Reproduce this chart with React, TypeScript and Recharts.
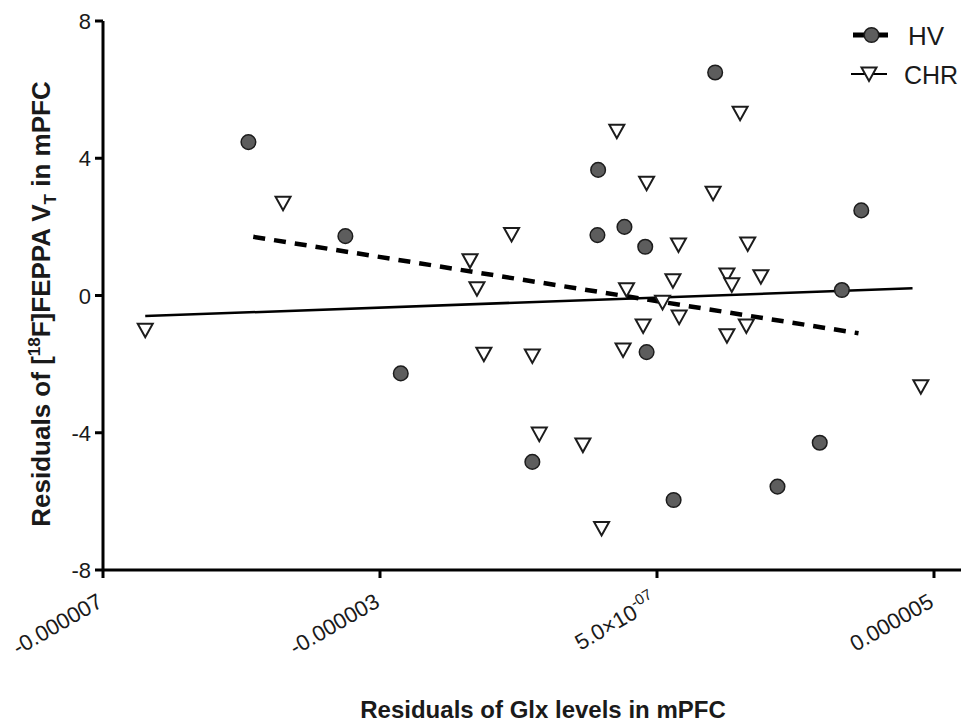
import { ScatterChart, Scatter, XAxis, YAxis, Legend, Label } from 'recharts';

const FONT = '"Liberation Sans", Arial, Helvetica, sans-serif';

// x values are residuals of Glx (raw units), y values are residuals of VT
const hvX = [-4.9e-6, -3.5e-6, -2.7e-6, -0.8e-6, 0.15e-6, 0.14e-6, 0.53e-6, 0.83e-6, 0.85e-6, 1.24e-6, 1.84e-6, 2.74e-6, 3.35e-6, 3.67e-6, 3.95e-6];
const hvY = [4.47, 1.73, -2.27, -4.85, 3.66, 1.76, 2.0, 1.42, -1.65, -5.96, 6.5, -5.57, -4.29, 0.16, 2.48];

const chrX = [-6.39e-6, -4.4e-6, -1.7e-6, -1.6e-6, -1.5e-6, -1.1e-6, -0.8e-6, -0.7e-6, -0.07e-6, 0.2e-6, 0.42e-6, 0.51e-6, 0.56e-6, 0.8e-6, 0.85e-6, 1.08e-6, 1.23e-6, 1.31e-6, 1.32e-6, 1.81e-6, 2.01e-6, 2.08e-6, 2.01e-6, 2.2e-6, 2.29e-6, 2.31e-6, 2.5e-6, 4.81e-6];
const chrY = [-1.01, 2.69, 1.01, 0.2, -1.71, 1.78, -1.76, -4.04, -4.36, -6.79, 4.79, -1.59, 0.17, -0.89, 3.27, -0.2, 0.43, 1.47, -0.63, 2.98, 0.6, 0.31, -1.17, 5.31, -0.89, 1.5, 0.55, -2.66];

// regression line end points
const hvFitX = [-4.83e-6, 3.91e-6];
const hvFitY = [1.71, -1.1];
const chrFitX = [-6.39e-6, 4.69e-6];
const chrFitY = [-0.6, 0.21];

const xTicks = [-7e-6, -3e-6, 1e-6, 5e-6];
const xTickLabels = ['-0.000007', '-0.000003', '5.0×10', '0.000005'];
const xTickSups = ['', '', '-07', ''];
const yTicks = [-8, -4, 0, 4, 8];

const seriesNames = ['HV', 'CHR'];

const toPoints = (xs: number[], ys: number[]) => xs.map((x, i) => ({ x, y: ys[i] }));

const hvData = toPoints(hvX, hvY);
const chrData = toPoints(chrX, chrY);
const hvFit = toPoints(hvFitX, hvFitY);
const chrFit = toPoints(chrFitX, chrFitY);

const Circle = ({ cx, cy }: any) => (
  <circle cx={cx} cy={cy} r={7.3} fill="#5d5d5d" stroke="#1c1c1c" strokeWidth={1.5} />
);

const Triangle = ({ cx, cy }: any) => (
  <polygon
    points={`${cx - 7.5},${cy - 6.5} ${cx + 7.5},${cy - 6.5} ${cx},${cy + 7}`}
    fill="#fff"
    stroke="#1c1c1c"
    strokeWidth={2}
  />
);

const Nothing = () => <g />;

function XTick(props: any) {
  const { x, y, payload } = props;
  const i = xTicks.indexOf(payload.value);
  return (
    <g transform={`translate(${x + 1},${y + 26}) rotate(-30)`}>
      <text x={0} y={0} textAnchor="end" fontSize={22} fontFamily={FONT} fill="#1a1a1a">
        {xTickLabels[i]}
        {xTickSups[i] && (
          <tspan dy={-10} fontSize={15}>
            {xTickSups[i]}
          </tspan>
        )}
      </text>
    </g>
  );
}

function YTick(props: any) {
  const { x, y, payload } = props;
  return (
    <text x={x} y={y} dy={8} textAnchor="end" fontSize={22} fontFamily={FONT} fill="#1a1a1a">
      {payload.value}
    </text>
  );
}

function LegendBox() {
  return (
    <svg width={116} height={100} style={{ overflow: 'hidden', display: 'block' }}>
      <line x1={8} y1={25} x2={43} y2={25} stroke="#000" strokeWidth={5} />
      <circle cx={26.5} cy={25} r={7.3} fill="#5d5d5d" stroke="#1c1c1c" strokeWidth={1.5} />
      <text x={63} y={35} fontSize={26} fontFamily={FONT} fill="#1a1a1a">
        {seriesNames[0]}
      </text>
      <line x1={6} y1={64} x2={42} y2={64} stroke="#000" strokeWidth={2} />
      <polygon points="16.5,57.5 31.5,57.5 24,71" fill="#fff" stroke="#1c1c1c" strokeWidth={2} />
      <text x={59} y={74} fontSize={25} fontFamily={FONT} fill="#1a1a1a">
        {seriesNames[1]}
      </text>
    </svg>
  );
}

const yLabel = () => (
  <text
    transform="translate(50,304) rotate(-90)"
    textAnchor="middle"
    fontSize={26}
    fontWeight="bold"
    fontFamily={FONT}
    fill="#1a1a1a"
  >
    Residuals of [
    <tspan dy={-10} fontSize={17}>18</tspan>
    <tspan dy={10}>F]FEPPA V</tspan>
    <tspan dy={6} fontSize={17}>T</tspan>
    <tspan dy={-6}> in mPFC</tspan>
  </text>
);

const xLabel = () => (
  <text x={543} y={718} textAnchor="middle" fontSize={24} fontWeight="bold" fontFamily={FONT} fill="#1a1a1a">
    Residuals of Glx levels in mPFC
  </text>
);

export default function App() {
  return (
    <div style={{ position: 'absolute', left: 0, top: 0, width: 961, height: 723, overflow: 'hidden', background: '#fff' }}>
      <ScatterChart width={961} height={723} margin={{ top: 21, right: 0, bottom: 93, left: 0 }}>
        <XAxis
          type="number"
          dataKey="x"
          domain={[-7e-6, 5.39e-6]}
          ticks={xTicks}
          interval={0}
          allowDataOverflow
          height={60}
          tickSize={8}
          tickMargin={2}
          axisLine={{ stroke: '#000', strokeWidth: 3 }}
          tickLine={{ stroke: '#000', strokeWidth: 3 }}
          tick={<XTick />}
        >
          <Label content={xLabel} />
        </XAxis>
        <YAxis
          type="number"
          dataKey="y"
          domain={[-8, 8]}
          ticks={yTicks}
          interval={0}
          width={103}
          tickSize={8}
          tickMargin={4}
          axisLine={{ stroke: '#000', strokeWidth: 3 }}
          tickLine={{ stroke: '#000', strokeWidth: 3 }}
          tick={<YTick />}
        >
          <Label content={yLabel} />
        </YAxis>
        <Legend
          layout="vertical"
          align="center"
          verticalAlign="middle"
          content={<LegendBox />}
          wrapperStyle={{ position: 'absolute', left: 845, top: 10, width: 116, height: 100 }}
        />
        <Scatter
          data={chrFit}
          line={{ stroke: '#000', strokeWidth: 2.5 }}
          shape={<Nothing />}
          legendType="none"
          isAnimationActive={false}
        />
        <Scatter
          data={hvFit}
          line={{ stroke: '#000', strokeWidth: 4.5, strokeDasharray: '12 9' }}
          shape={<Nothing />}
          legendType="none"
          isAnimationActive={false}
        />
        <Scatter name="CHR" data={chrData} shape={<Triangle />} isAnimationActive={false} />
        <Scatter name="HV" data={hvData} shape={<Circle />} isAnimationActive={false} />
      </ScatterChart>
    </div>
  );
}
